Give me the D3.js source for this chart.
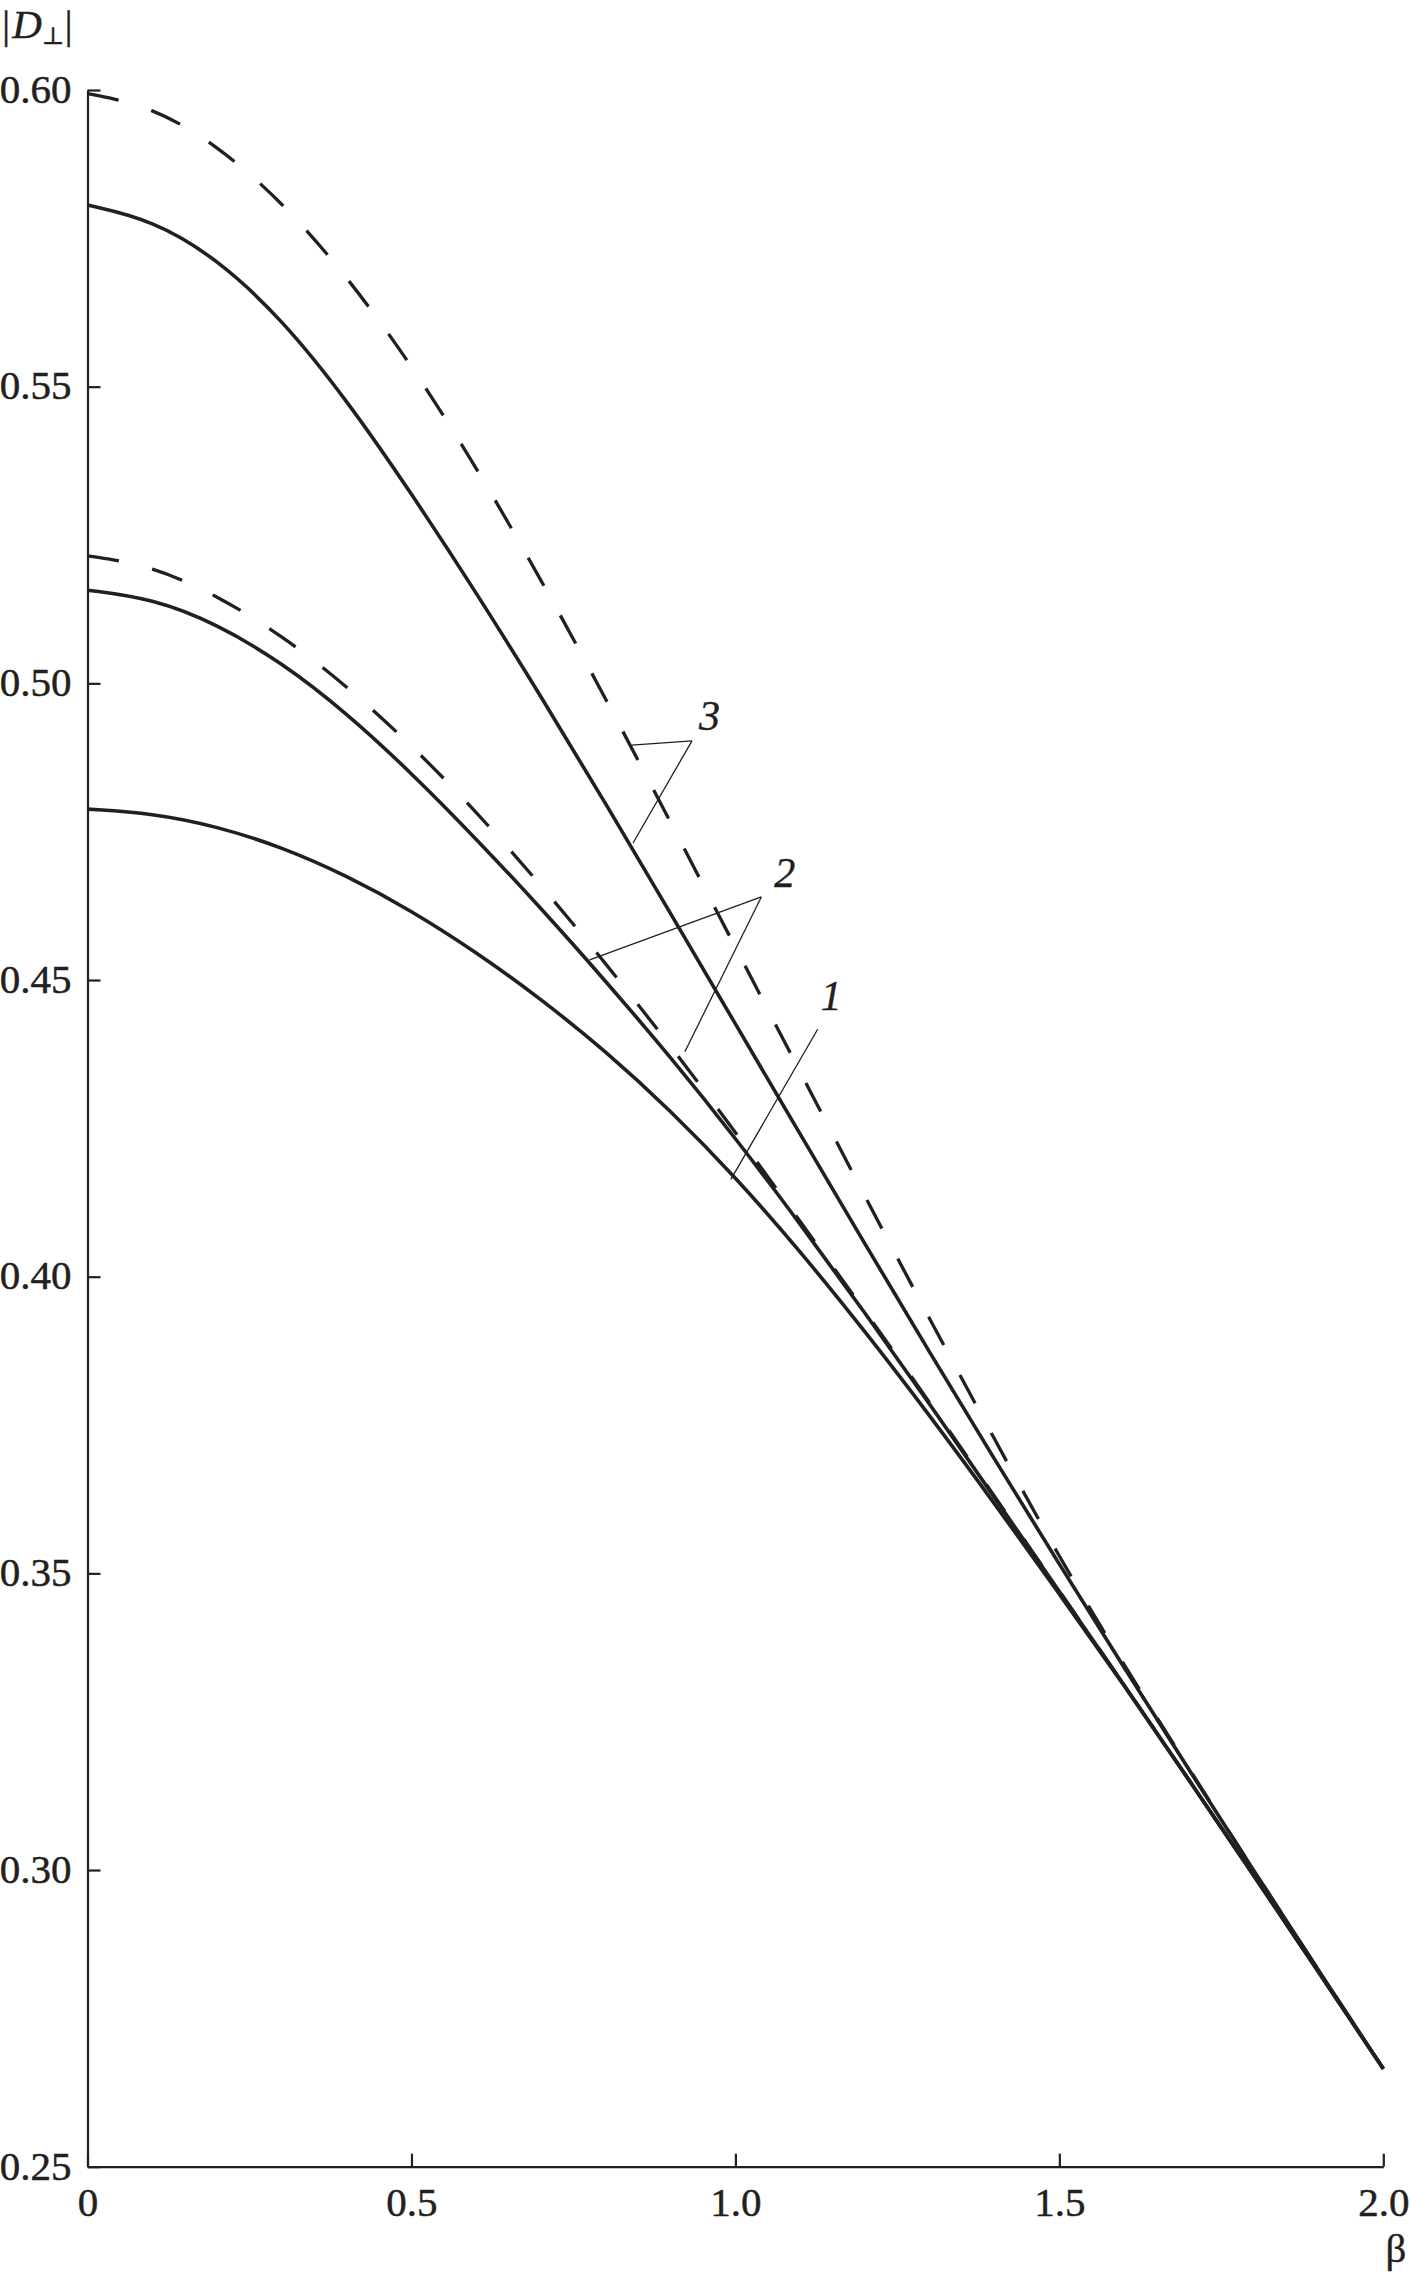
<!DOCTYPE html>
<html>
    <head>
        <style>
            body { margin: 0; background: #fff; }
            svg text { font-family: "Liberation Serif", Tinos, "Times New Roman", Times, serif; fill: #231f20; }
        </style>
    </head>
    <body>
        <svg id="chart" width="1410" height="2273"></svg>

        <script src="https://d3js.org/d3.v7.min.js"></script>
        <script>
            // beta values the curves are sampled at
            const beta = [0, 0.1, 0.2, 0.3, 0.4, 0.5, 0.6, 0.7, 0.8, 0.9, 1.0,
                          1.1, 1.2, 1.3, 1.4, 1.5, 1.6, 1.7, 1.8, 1.9, 2.0];

            // |D_perp|
            const curve1Solid  = [0.4788, 0.4781, 0.4759, 0.4724, 0.4676, 0.4617, 0.4547, 0.4468, 0.4380, 0.4280, 0.4168,
                                  0.4043, 0.3908, 0.3766, 0.3618, 0.3465, 0.3312, 0.3152, 0.2991, 0.2828, 0.2665];
            const curve2Solid  = [0.5157, 0.5143, 0.5100, 0.5035, 0.4950, 0.4849, 0.4738, 0.4621, 0.4498, 0.4370, 0.4234,
                                  0.4089, 0.3939, 0.3785, 0.3628, 0.3469, 0.3312, 0.3152, 0.2991, 0.2828, 0.2665];
            const curve2Dashed = [0.5215, 0.5198, 0.5148, 0.5081, 0.4996, 0.4896, 0.4784, 0.4660, 0.4528, 0.4389, 0.4244,
                                  0.4093, 0.3942, 0.3788, 0.3630, 0.3470, 0.3312, 0.3152, 0.2991, 0.2828, 0.2665];
            const curve3Solid  = [0.5806, 0.5781, 0.5716, 0.5614, 0.5478, 0.5320, 0.5153, 0.4978, 0.4797, 0.4612, 0.4426,
                                  0.4240, 0.4055, 0.3872, 0.3692, 0.3515, 0.3341, 0.3169, 0.2999, 0.2831, 0.2665];
            const curve3Dashed = [0.5994, 0.5972, 0.5907, 0.5812, 0.5687, 0.5537, 0.5365, 0.5175, 0.4974, 0.4766, 0.4555,
                                  0.4345, 0.4135, 0.3928, 0.3726, 0.3526, 0.3345, 0.3171, 0.2999, 0.2831, 0.2665];

            const xTicks = [0, 0.5, 1.0, 1.5, 2.0];
            const xTickLabels = ["0", "0.5", "1.0", "1.5", "2.0"];
            const yTicks = [0.25, 0.30, 0.35, 0.40, 0.45, 0.50, 0.55, 0.60];
            const yTickLabels = ["0.25", "0.30", "0.35", "0.40", "0.45", "0.50", "0.55", "0.60"];

            // curve labels: text, label position, leader apex, leader targets (data coords)
            const labelNames = ["3", "2", "1"];
            const labelAt = [[0.960, 0.4922], [1.076, 0.4657], [1.148, 0.4450]];
            const leaderApex = [[0.933, 0.4903], [1.040, 0.4640], [1.127, 0.4417]];
            const leaderEnds = [
                [[0.840, 0.4896], [0.842, 0.4731]],
                [[0.775, 0.4534], [0.922, 0.4379]],
                [[0.993, 0.4164]]
            ];

            const ink = "#231f20";
            const serif = "'Liberation Serif', Tinos, 'Times New Roman', Times, serif";
            const width = 1410, height = 2273;
            const margin = {top: 90, right: 26.7, bottom: 106.3, left: 87.5};

            const svg = d3.select("#chart").attr("font-family", serif);

            const x = d3.scaleLinear()
                .domain([0, 2])
                .range([margin.left, width - margin.right]);
            const y = d3.scaleLinear()
                .domain([0.25, 0.60])
                .range([height - margin.bottom, margin.top]);

            // axes, ticks pointing inwards
            const xAxis = d3.axisBottom(x)
                .tickValues(xTicks)
                .tickFormat((d, i) => xTickLabels[i])
                .tickSizeInner(-13)
                .tickSizeOuter(0)
                .tickPadding(20);
            const yAxis = d3.axisLeft(y)
                .tickValues(yTicks)
                .tickFormat((d, i) => yTickLabels[i])
                .tickSizeInner(-13)
                .tickSizeOuter(0)
                .tickPadding(16);

            const gx = svg.append("g")
                .attr("transform", `translate(0,${y(0.25)})`)
                .call(xAxis);
            const gy = svg.append("g")
                .attr("transform", `translate(${x(0)},0)`)
                .call(yAxis);

            [gx, gy].forEach(g => {
                g.attr("font-family", serif).attr("font-size", 41);
                g.select(".domain").attr("stroke", ink).attr("stroke-width", 2.2);
                g.selectAll(".tick line").attr("stroke", ink).attr("stroke-width", 2.2);
                g.selectAll(".tick text")
                    .attr("fill", ink)
                    .attr("stroke", ink)
                    .attr("stroke-width", 0.5);
            });
            gx.selectAll(".tick text").attr("dy", "0.71em");
            gy.selectAll(".tick text").attr("dy", "0.3em");

            // axis titles
            const yTitle = svg.append("text")
                .attr("x", 2)
                .attr("y", 38)
                .attr("font-size", 41)
                .attr("stroke", ink)
                .attr("stroke-width", 0.4);
            yTitle.append("tspan").text("|");
            yTitle.append("tspan").attr("font-style", "italic").attr("dx", 2).text("D");
            yTitle.append("tspan").attr("font-size", 24).attr("dy", 6)
                .attr("font-family", "'DejaVu Serif', serif").text("⊥");
            yTitle.append("tspan").attr("dy", -6).text("|");

            svg.append("text")
                .attr("x", 1396)
                .attr("y", 2262)
                .attr("text-anchor", "middle")
                .attr("font-size", 41)
                .attr("stroke", ink)
                .attr("stroke-width", 0.4)
                .text("β");

            // curves (B-spline through the read points, smooth like the plotted functions)
            const line = d3.line()
                .x((d, i) => x(beta[i]))
                .y(d => y(d))
                .curve(d3.curveBasis);

            const series = [
                {values: curve1Solid, dash: null},
                {values: curve2Solid, dash: null},
                {values: curve3Solid, dash: null},
                {values: curve2Dashed, dash: "32,34"},
                {values: curve3Dashed, dash: "32,34"}
            ];

            svg.append("g")
                .attr("fill", "none")
                .attr("stroke", ink)
                .selectAll("path")
                .data(series)
                .join("path")
                    .attr("stroke-dasharray", d => d.dash)
                    .attr("stroke-width", d => d.dash ? 3.3 : 3.6)
                    .attr("d", d => line(d.values));

            // curve number labels with leader lines
            const leaders = svg.append("g")
                .attr("stroke", ink)
                .attr("stroke-width", 1.3)
                .attr("fill", "none");

            labelNames.forEach((name, i) => {
                leaderEnds[i].forEach(end => {
                    leaders.append("line")
                        .attr("x1", x(leaderApex[i][0]))
                        .attr("y1", y(leaderApex[i][1]))
                        .attr("x2", x(end[0]))
                        .attr("y2", y(end[1]));
                });
                svg.append("text")
                    .attr("x", x(labelAt[i][0]))
                    .attr("y", y(labelAt[i][1]))
                    .attr("text-anchor", "middle")
                    .attr("font-style", "italic")
                    .attr("font-size", 42)
                    .attr("stroke", ink)
                    .attr("stroke-width", 0.4)
                    .text(name);
            });
        </script>
    </body>
</html>
